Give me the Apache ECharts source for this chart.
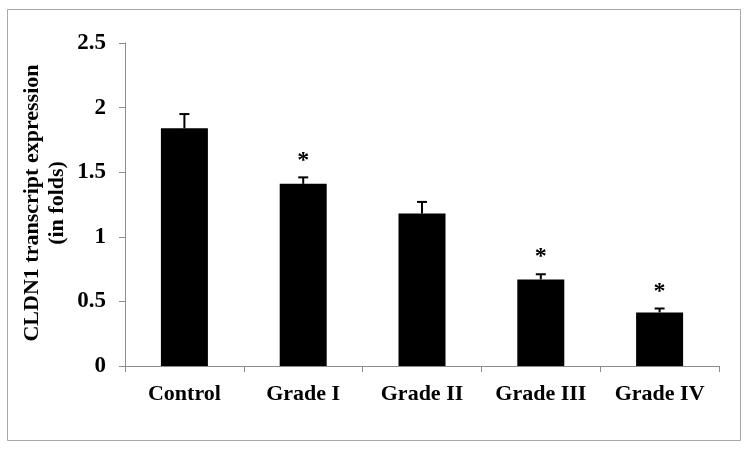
<!DOCTYPE html>
<html>
<head>
<meta charset="utf-8">
<script src="https://cdn.jsdelivr.net/npm/echarts@6/dist/echarts.min.js"></script>
<style>
  html, body { margin: 0; padding: 0; background: #fff; }
  #chart { width: 751px; height: 452px; }
</style>
</head>
<body>
<div id="chart"></div>
<script>
const categories = ['Control', 'Grade I', 'Grade II', 'Grade III', 'Grade IV'];
const means = [1.84, 1.41, 1.18, 0.67, 0.415];
const errors = [0.11, 0.05, 0.09, 0.04, 0.03];
const significant = [false, true, false, true, true];
const yTicks = [0, 0.5, 1, 1.5, 2, 2.5];

const serif = '"Liberation Serif", "DejaVu Serif", serif';

const chart = echarts.init(document.getElementById('chart'));

const errorData = means.map((m, i) => [i, m, m + errors[i], significant[i] ? 1 : 0]);

const option = {
    animation: false,
    backgroundColor: '#fff',
    grid: { left: 125, right: 32, top: 43, bottom: 86 },
    graphic: [
        {
            type: 'rect',
            shape: { x: 7.5, y: 9.5, width: 733, height: 431 },
            style: { fill: 'none', stroke: '#a8a8a8', lineWidth: 1 },
            silent: true,
        },
        {
            type: 'text',
            x: 32,
            y: 203,
            rotation: Math.PI / 2,
            style: {
                text: 'CLDN1 transcript expression',
                font: 'bold 22px ' + serif,
                fill: '#000',
                align: 'center',
                verticalAlign: 'middle',
            },
        },
        {
            type: 'text',
            x: 57,
            y: 203,
            rotation: Math.PI / 2,
            style: {
                text: '(in folds)',
                font: 'bold 22px ' + serif,
                fill: '#000',
                align: 'center',
                verticalAlign: 'middle',
            },
        },
    ],
    xAxis: {
        type: 'category',
        data: categories,
        axisLine: { lineStyle: { color: '#8c8c8c', width: 1 } },
        axisTick: { show: true, length: 6, lineStyle: { color: '#8c8c8c' } },
        axisLabel: {
            color: '#000',
            fontFamily: serif,
            fontWeight: 'bold',
            fontSize: 22,
            margin: 17,
        },
    },
    yAxis: {
        type: 'value',
        min: yTicks[0],
        max: yTicks[yTicks.length - 1],
        interval: 0.5,
        splitLine: { show: false },
        axisLine: { show: true, lineStyle: { color: '#8c8c8c', width: 1 } },
        axisTick: { show: true, length: 6, lineStyle: { color: '#8c8c8c' } },
        axisLabel: {
            color: '#000',
            fontFamily: serif,
            fontWeight: 'bold',
            fontSize: 23,
            margin: 19,
        },
    },
    series: [
        {
            type: 'bar',
            data: means,
            barWidth: 47,
            itemStyle: { color: '#000' },
            z: 2,
        },
        {
            type: 'custom',
            data: errorData,
            z: 3,
            renderItem: (params, api) => {
                const top = api.coord([api.value(0), api.value(2)]);
                const base = api.coord([api.value(0), api.value(1)]);
                const children = [
                    {
                        type: 'line',
                        shape: { x1: base[0], y1: base[1], x2: top[0], y2: top[1] },
                        style: { stroke: '#000', lineWidth: 2 },
                    },
                    {
                        type: 'line',
                        shape: { x1: top[0] - 5, y1: top[1], x2: top[0] + 5, y2: top[1] },
                        style: { stroke: '#000', lineWidth: 2 },
                    },
                ];
                if (api.value(3)) {
                    children.push({
                        type: 'text',
                        x: top[0],
                        y: top[1] - 17,
                        style: {
                            text: '*',
                            font: 'bold 24px ' + serif,
                            fill: '#000',
                            align: 'center',
                            verticalAlign: 'middle',
                        },
                    });
                }
                return { type: 'group', children };
            },
        },
    ],
};

chart.setOption(option);
</script>
</body>
</html>
